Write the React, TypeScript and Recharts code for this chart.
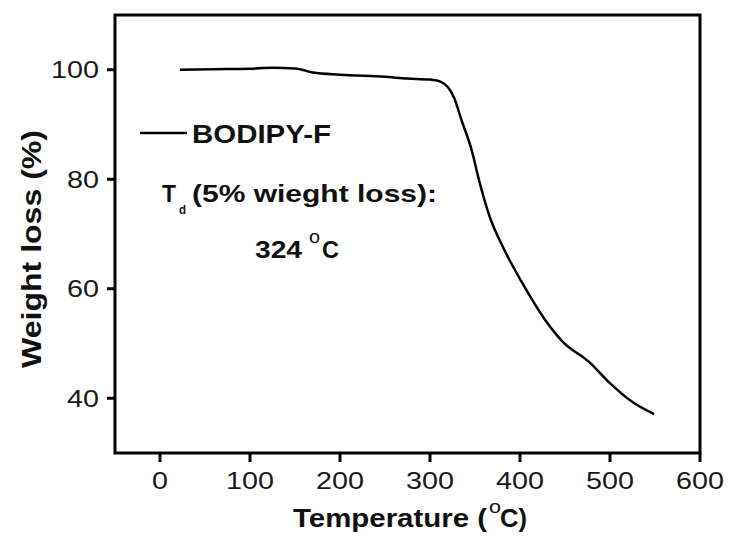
import React from "react";
import {
  LineChart,
  Line,
  XAxis,
  YAxis,
  ReferenceArea,
  Legend,
  Customized,
} from "recharts";

const temperature = [22, 60, 100, 125, 150, 170, 200, 250, 275, 300, 312, 320, 327, 335, 346, 355, 366, 382, 402, 428, 447, 477, 499, 525, 549];
const weight = [100, 100.1, 100.2, 100.35, 100.25, 99.5, 99.1, 98.7, 98.4, 98.2, 97.8, 96.8, 94.8, 90.8, 85.5, 79.5, 73.3, 67.3, 61.2, 54.3, 50.4, 46.6, 42.9, 39.3, 37.1];
const xTicks = [0, 100, 200, 300, 400, 500, 600];
const yTicks = [40, 60, 80, 100];
const seriesName = "BODIPY-F";

const data = temperature.map((t, i) => ({ t, w: weight[i] }));

const FONT = "'Liberation Sans', Arial, sans-serif";

const XTick = (props: any) => {
  const { x, y, payload } = props;
  const s = String(payload.value);
  return (
    <text x={x} y={y} dy="0.71em" textAnchor="middle" fontFamily={FONT} fontSize={24} fill="#1a1a1a" textLength={16 * s.length} lengthAdjust="spacingAndGlyphs">
      {s}
    </text>
  );
};

const YTick = (props: any) => {
  const { x, y, payload } = props;
  const s = String(payload.value);
  return (
    <text x={x} y={y} dy="0.355em" textAnchor="end" fontFamily={FONT} fontSize={24} fill="#1a1a1a" textLength={16 * s.length} lengthAdjust="spacingAndGlyphs">
      {s}
    </text>
  );
};

const Annotations = () => (
  <g fontFamily={FONT} fontWeight="bold" fill="#111">
    <text x={162} y={202} fontSize={24} textLength={14} lengthAdjust="spacingAndGlyphs">T</text>
    <text x={179} y={214} fontSize={12} textLength={7} lengthAdjust="spacingAndGlyphs">d</text>
    <text x={192} y={202} fontSize={24} textLength={245} lengthAdjust="spacingAndGlyphs">(5%  wieght loss):</text>
    <text x={255} y={258} fontSize={24} textLength={47} lengthAdjust="spacingAndGlyphs">324</text>
    <text x={309} y={243} fontSize={18} fontWeight="normal" textLength={11} lengthAdjust="spacingAndGlyphs">o</text>
    <text x={322} y={258} fontSize={24} textLength={17} lengthAdjust="spacingAndGlyphs">C</text>
    <text transform="rotate(-90, 41, 249)" x={41} y={249} textAnchor="middle" fontSize={28} textLength={238} lengthAdjust="spacingAndGlyphs">Weight loss (%)</text>
    <text x={293} y={527} fontSize={25} textLength={194} lengthAdjust="spacingAndGlyphs">Temperature (</text>
    <text x={489} y={513} fontSize={18} fontWeight="normal" textLength={12} lengthAdjust="spacingAndGlyphs">o</text>
    <text x={500} y={527} fontSize={25} textLength={27} lengthAdjust="spacingAndGlyphs">C)</text>
  </g>
);

const LegendContent = () => (
  <svg width={220} height={34}>
    <line x1={2} x2={49} y1={15} y2={15} stroke="#000" strokeWidth={2.5} />
    <text x={54} y={25} fontFamily={FONT} fontWeight="bold" fontSize={25} fill="#111" textLength={139} lengthAdjust="spacingAndGlyphs">
      {seriesName}
    </text>
  </svg>
);

export default function App() {
  return (
    <div style={{ position: "absolute", left: 0, top: 0, width: 734, height: 536, background: "#fff" }}>
      <LineChart width={734} height={536} data={data} margin={{ top: 15, right: 34, bottom: 0, left: 0 }}>
        <XAxis
          dataKey="t"
          type="number"
          domain={[-50, 600]}
          ticks={xTicks}
          allowDataOverflow
          height={83}
          axisLine={false}
          tickSize={9}
          tickMargin={10}
          tickLine={{ stroke: "#000", strokeWidth: 3 }}
          tick={<XTick />}
        />
        <YAxis
          type="number"
          domain={[30, 110]}
          ticks={yTicks}
          allowDataOverflow
          width={115}
          axisLine={false}
          tickSize={8}
          tickMargin={8}
          tickLine={{ stroke: "#000", strokeWidth: 3 }}
          tick={<YTick />}
        />
        <ReferenceArea x1={-50} x2={600} y1={30} y2={110} fill="none" stroke="#000" strokeWidth={3} ifOverflow="visible" />
        <Line dataKey="w" name={seriesName} type="monotone" stroke="#000" strokeWidth={2.5} dot={false} isAnimationActive={false} />
        <Legend
          layout="vertical"
          align="center"
          verticalAlign="middle"
          content={<LegendContent />}
          wrapperStyle={{ position: "absolute", left: 138, top: 118, width: 220, height: 34 }}
        />
        <Customized component={Annotations} />
      </LineChart>
    </div>
  );
}
